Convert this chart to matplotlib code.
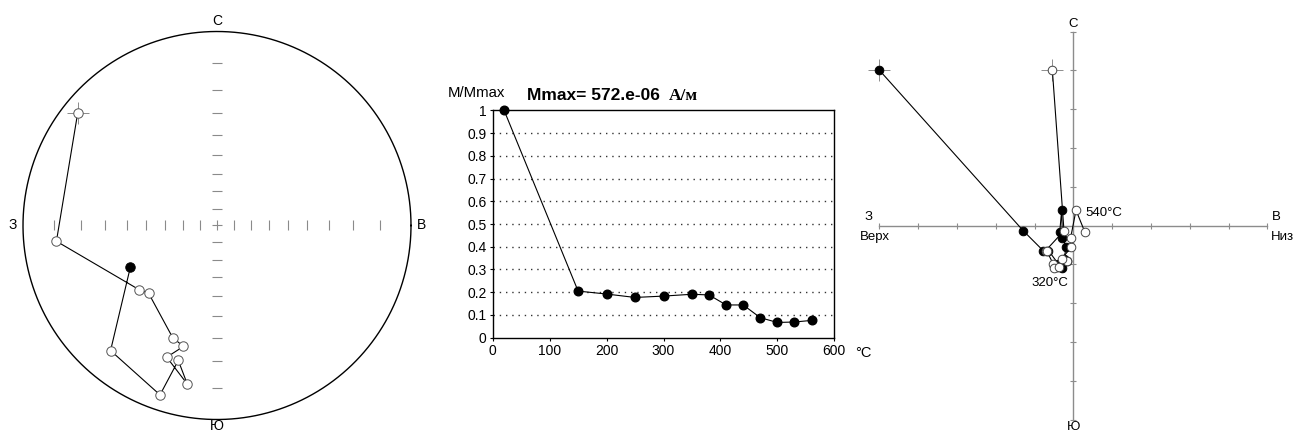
import numpy as np
import matplotlib
matplotlib.use("Agg")
import matplotlib.pyplot as plt

plt.rcParams['font.family'] = ['Liberation Sans', 'DejaVu Sans']

W, H = 1296, 433

# ---------------- data ----------------
# Stereonet (declination / inclination, degrees), in path order
st_dec = [308.9, 264.4, 230.6, 225.2, 201.6, 195.5, 200.9, 190.6, 196.0, 198.6, 220.4, 244.2]
st_inc = [-4.6, -10.5, -35.0, -37.2, -26.3, -24.2, -18.0, -10.5, -18.2, -4.7, -9.5, 37.2]

# Demagnetisation curve
temps = [20, 150, 200, 250, 300, 350, 380, 410, 440, 470, 500, 530, 560]
m_norm = [1.0, 0.205, 0.192, 0.177, 0.183, 0.191, 0.188, 0.144, 0.144, 0.088, 0.067, 0.069, 0.076]
y_ticks = [0, 0.1, 0.2, 0.3, 0.4, 0.5, 0.6, 0.7, 0.8, 0.9, 1]
y_tick_labels = ["0", "0.1", "0.2", "0.3", "0.4", "0.5", "0.6", "0.7", "0.8", "0.9", "1"]
x_ticks = [0, 100, 200, 300, 400, 500, 600]

# Zijderveld components (tick units)
zij_n = [4.01, -0.13, -0.64, -0.64, -0.98, -1.08, -1.07, -0.90, -0.85, -0.54, -0.32, 0.40, -0.17]
zij_e = [-5.00, -1.29, -0.78, -0.64, -0.39, -0.30, -0.41, -0.17, -0.24, -0.18, -0.28, -0.30, -0.35]
zij_z = [-0.54, -0.24, -0.71, -0.69, -0.52, -0.50, -0.37, -0.17, -0.29, -0.05, -0.07, 0.07, 0.30]

fig = plt.figure(figsize=(W / 100, H / 100), dpi=100)


def px_axes(cx, cy, half_px):
    # axes centred at pixel (cx, cy) (from top-left) with half-size half_px
    left = (cx - half_px) / W
    bottom = (H - cy - half_px) / H
    return fig.add_axes([left, bottom, 2 * half_px / W, 2 * half_px / H])


# ---------------- stereonet ----------------
R = 194.0
LIM = 1.12
ax1 = px_axes(217, 225.5, R * LIM)
ax1.set_xlim(-LIM, LIM)
ax1.set_ylim(-LIM, LIM)
ax1.axis('off')

t = np.linspace(0, 2 * np.pi, 400)
ax1.plot(np.cos(t), np.sin(t), color='black', lw=1.0)

tick_inc = np.arange(10, 90, 10)
rt = np.tan(np.radians((90 - tick_inc) / 2))
gray = '#8a8a8a'
ax1.plot(np.concatenate([rt, -rt]), np.zeros(2 * len(rt)), ls='none', marker='|',
         ms=6.5, mew=0.8, color=gray)
ax1.plot(np.zeros(2 * len(rt)), np.concatenate([rt, -rt]), ls='none', marker='_',
         ms=6.5, mew=0.8, color=gray)
ax1.plot([0], [0], marker='+', ms=7, mew=0.8, color=gray)

dec = np.radians(st_dec)
inc = np.array(st_inc)
r = np.tan(np.radians((90 - np.abs(inc)) / 2))
sx = r * np.sin(dec)
sy = r * np.cos(dec)
ax1.plot(sx, sy, color='black', lw=0.8, zorder=2)
ax1.plot(sx[0], sy[0], marker='+', ms=16, mew=0.7, color=gray, zorder=2)
neg = inc < 0
ax1.plot(sx[neg], sy[neg], ls='none', marker='o', ms=6.8, mfc='white', mec='#555555',
         mew=0.7, zorder=3)
ax1.plot(sx[~neg], sy[~neg], ls='none', marker='o', ms=6.8, mfc='black', mec='black',
         mew=0.7, zorder=3)

lab_kw = dict(fontsize=10, ha='center', va='center', clip_on=False)
ax1.text(0, 1.056, 'С', **lab_kw)
ax1.text(-1.055, 0, 'З', **lab_kw)
ax1.text(1.052, 0, 'В', **lab_kw)
ax1.text(0, -1.033, 'Ю', **lab_kw)

# ---------------- demagnetisation curve ----------------
x0, x1 = 492.7, 834.3
y1, y0 = 110.3, 337.7
ax2 = fig.add_axes([x0 / W, (H - y0) / H, (x1 - x0) / W, (y0 - y1) / H])
ax2.set_xlim(0, 600)
ax2.set_ylim(0, 1)
for yv in y_ticks[1:-1]:
    ax2.axhline(yv, color='#333333', lw=1.0, ls=(0, (1, 3.5)), zorder=1)
ax2.plot(temps, m_norm, color='black', lw=0.8, marker='o', ms=6.2, mfc='black',
         mec='black', zorder=3, clip_on=False)
ax2.set_xticks(x_ticks)
ax2.set_yticks(y_ticks)
ax2.set_yticklabels(y_tick_labels)
ax2.tick_params(direction='out', length=2.5, width=0.8, labelsize=10, pad=2)
for s in ax2.spines.values():
    s.set_linewidth(1.0)

fig.text(448 / W, 1 - 93 / H, 'M/Mmax', fontsize=10.8, ha='left', va='center')
fig.text(527 / W, 1 - 96 / H, 'Mmax= 572.e-06', fontsize=12.5, fontweight='bold',
         ha='left', va='center')
fig.text(669 / W, 1 - 96 / H, 'А/м', fontsize=12.5, fontweight='bold',
         family=['Liberation Serif', 'DejaVu Serif'], ha='left', va='center')
fig.text(855 / W, 1 - 353 / H, '°C', fontsize=10.5, ha='left', va='center')

# ---------------- Zijderveld ----------------
U = 38.8
ZL = 5.6
ax3 = px_axes(1073.3, 225.7, U * ZL)
ax3.set_xlim(-ZL, ZL)
ax3.set_ylim(-ZL, ZL)
ax3.axis('off')

agray = '#8c8c8c'
ax3.plot([-5, 5], [0, 0], color=agray, lw=1.0, zorder=1)
ax3.plot([0, 0], [-5, 5], color=agray, lw=1.0, zorder=1)
ticks = np.array([k for k in range(-5, 6) if k != 0])
ax3.plot(ticks, np.zeros(len(ticks)), ls='none', marker='|', ms=5, mew=0.8, color=agray)
ax3.plot(np.zeros(len(ticks)), ticks, ls='none', marker='_', ms=5, mew=0.8, color=agray)

zn = np.array(zij_n)
ze = np.array(zij_e)
zz = np.array(zij_z)
ax3.plot(ze[0], zn[0], marker='+', ms=16, mew=0.7, color=agray, zorder=2)
ax3.plot(zz[0], zn[0], marker='+', ms=16, mew=0.7, color=agray, zorder=2)
ax3.plot(ze, zn, color='black', lw=0.8, marker='o', ms=6.2, mfc='black', mec='black',
         mew=0.7, zorder=3)
ax3.plot(zz, zn, color='black', lw=0.8, marker='o', ms=6.2, mfc='white', mec='#444444',
         mew=0.7, zorder=4)

zk = dict(fontsize=9.5, ha='center', va='center', clip_on=False)
ax3.text(0, 5.2, 'С', **zk)
ax3.text(0, -5.18, 'Ю', **zk)
ax3.text(-5.27, 0.22, 'З', **zk)
ax3.text(-5.11, -0.30, 'Верх', **zk)
ax3.text(5.22, 0.22, 'В', **zk)
ax3.text(5.40, -0.30, 'Низ', **zk)
ax3.text(0.79, 0.32, '540°C', **zk)
ax3.text(-0.60, -1.47, '320°C', **zk)

fig.savefig('out.png', dpi=100)
